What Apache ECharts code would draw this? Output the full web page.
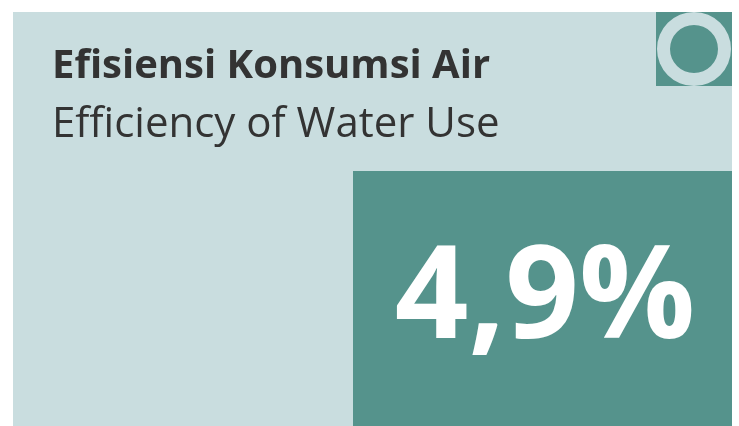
<!DOCTYPE html>
<html>
<head>
<meta charset="utf-8">
<script src="https://cdn.jsdelivr.net/npm/echarts@6/dist/echarts.min.js"></script>
<style>
html,body{margin:0;padding:0;background:#fff;}
#c{width:739px;height:426px;}
</style>
</head>
<body>
<div id="c"></div>
<script>
var titles = ["Efisiensi Konsumsi Air", "Efficiency of Water Use"];
var values = [4.9];
var unit = "%";

var chart = echarts.init(document.getElementById('c'), null, {renderer: 'canvas'});
var valText = values[0].toFixed(1).replace('.', ',') + unit;
var FONT = '"Open Sans", sans-serif';
chart.setOption({
  animation: false,
  backgroundColor: '#ffffff',
  graphic: [
    {type: 'rect', shape: {x: 13, y: 12, width: 719, height: 414}, style: {fill: '#c9dddf'}},
    {type: 'rect', shape: {x: 353, y: 171, width: 379, height: 255}, style: {fill: '#55938c'}},
    {type: 'rect', shape: {x: 656, y: 12, width: 76, height: 74}, style: {fill: '#55938c'}},
    {type: 'ring', shape: {cx: 694, cy: 49, r: 37, r0: 24}, style: {fill: '#c9dddf'}},
    {type: 'text', style: {text: titles[0], x: 52, y: 67, fill: '#333333', font: 'bold 40px ' + FONT, textAlign: 'left', textVerticalAlign: 'middle'}},
    {type: 'text', style: {text: titles[1], x: 52, y: 125, fill: '#333333', font: '42px ' + FONT, textAlign: 'left', textVerticalAlign: 'middle'}},
    {type: 'text', style: {text: valText, x: 545, y: 301, fill: '#ffffff', font: 'bold 129px ' + FONT, textAlign: 'center', textVerticalAlign: 'middle'}}
  ]
});
</script>
</body>
</html>
